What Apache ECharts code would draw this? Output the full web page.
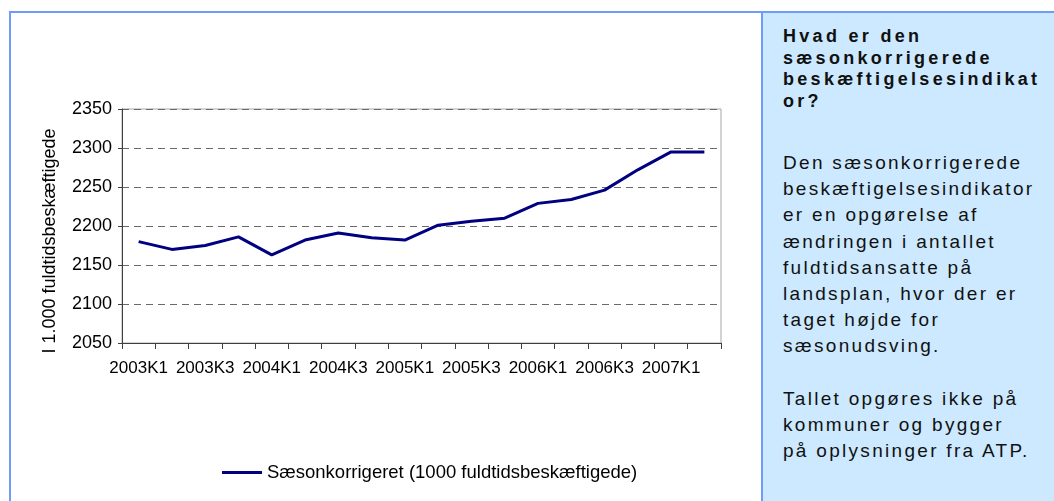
<!DOCTYPE html>
<html>
<head>
<meta charset="utf-8">
<script src="https://cdn.jsdelivr.net/npm/echarts@6/dist/echarts.min.js"></script>
<style>
  html, body { margin: 0; padding: 0; background: #fff; }
  #wrap { position: relative; width: 1054px; height: 501px; overflow: hidden; }
  #frame {
    position: absolute; left: 9px; top: 11px; width: 1100px; height: 600px;
    border-top: 2px solid #6e9cf6; border-left: 2px solid #6e9cf6;
  }
  #chart { position: absolute; left: 0; top: 0; width: 1054px; height: 501px; }
  #panel {
    position: absolute; left: 761px; top: 13px; width: 293px; height: 488px;
    background: #cce9ff; border-left: 2px solid #6e9cf6;
    font-family: "Liberation Sans", Arial, sans-serif; color: #111;
  }
  #panel h3 {
    margin: 0; position: absolute; left: 20px; top: 13px;
    font-size: 18px; line-height: 21.5px; font-weight: bold; letter-spacing: 3.3px;
  }
  #panel p {
    margin: 0; position: absolute; left: 20px; top: 137px;
    font-size: 19px; line-height: 26.2px; letter-spacing: 2.3px;
  }
</style>
</head>
<body>
<div id="wrap">
  <div id="frame"></div>
  <div id="chart"></div>
  <div id="panel">
    <h3>Hvad er den<br>sæsonkorrigerede<br>beskæftigelsesindikat<br>or?</h3>
    <p>Den sæsonkorrigerede<br>beskæftigelsesindikator<br>er en opgørelse af<br>ændringen i antallet<br>fuldtidsansatte på<br>landsplan, hvor der er<br>taget højde for<br>sæsonudsving.<br><br>Tallet opgøres ikke på<br>kommuner og bygger<br>på oplysninger fra ATP.</p>
  </div>
</div>
<script>
// kvartaler 2003K1 - 2007K2
const quarters = [
  "2003K1", "2003K2", "2003K3", "2003K4",
  "2004K1", "2004K2", "2004K3", "2004K4",
  "2005K1", "2005K2", "2005K3", "2005K4",
  "2006K1", "2006K2", "2006K3", "2006K4",
  "2007K1", "2007K2"
];
const seasonAdjusted = [
  2180, 2170, 2175, 2186,
  2163, 2182, 2191, 2185,
  2182, 2201, 2206, 2210,
  2229, 2234, 2246, 2272,
  2295, 2295
];
const seriesName = "Sæsonkorrigeret (1000 fuldtidsbeskæftigede)";
const yTitle = "I 1.000 fuldtidsbeskæftigede";

const font = "Liberation Sans";
const chart = echarts.init(document.getElementById("chart"), null, { renderer: "canvas" });

chart.setOption({
  animation: false,
  textStyle: { fontFamily: font },
  grid: {
    left: 122, top: 109, width: 599, height: 234,
    show: true, borderColor: "#a6a6a6", borderWidth: 1
  },
  legend: {
    left: 217, top: 458,
    icon: "rect",
    itemWidth: 40, itemHeight: 3,
    textStyle: { fontFamily: font, fontSize: 18.5, color: "#000" },
    data: [seriesName]
  },
  xAxis: {
    type: "category",
    data: quarters,
    boundaryGap: true,
    axisLine: { lineStyle: { color: "#404040", width: 1 } },
    axisTick: { show: true, interval: 0, length: 6, lineStyle: { color: "#404040" } },
    axisLabel: { interval: 1, margin: 17, color: "#000", fontSize: 17, fontFamily: font },
    splitLine: { show: false }
  },
  yAxis: {
    type: "value",
    min: 2050, max: 2350, interval: 50,
    axisLine: { show: true, lineStyle: { color: "#404040", width: 1 } },
    axisTick: { show: true, length: 4, lineStyle: { color: "#404040" } },
    axisLabel: {
      margin: 10, color: "#000", fontSize: 18, fontFamily: font,
      formatter: (v) => String(v)
    },
    splitLine: { show: true, lineStyle: { color: "#6a6a6a", type: [7, 5], width: 1 } }
  },
  graphic: [{
    type: "text",
    x: 50, y: 241,
    rotation: Math.PI / 2,
    style: {
      text: yTitle,
      fontFamily: font, fontSize: 18, fill: "#000",
      align: "center", verticalAlign: "middle"
    }
  }],
  series: [{
    name: seriesName,
    type: "line",
    data: seasonAdjusted,
    symbol: "none",
    smooth: false,
    lineStyle: { color: "#000080", width: 3 },
    itemStyle: { color: "#000080" }
  }]
});
</script>
</body>
</html>
